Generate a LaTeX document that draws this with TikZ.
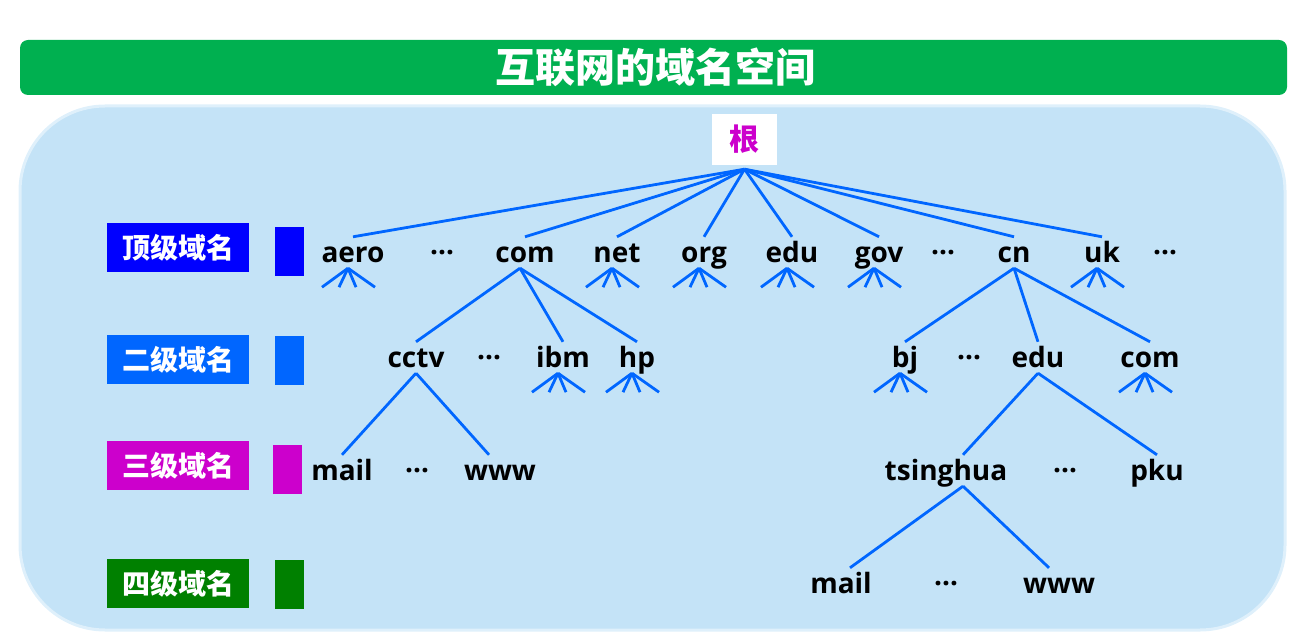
\documentclass[tikz,border=0pt]{standalone}
\usepackage{fontspec}
\setmainfont{Noto Sans CJK SC}
\newfontfamily\latinfont{Open Sans}
\usepackage{xcolor}
\definecolor{titlegreen}{HTML}{00B050}
\definecolor{panelblue}{HTML}{C4E3F7}
\definecolor{edgeblue}{HTML}{0066FF}
\definecolor{lvone}{HTML}{0000FF}
\definecolor{lvtwo}{HTML}{0066FF}
\definecolor{lvthree}{HTML}{CC00CC}
\definecolor{lvfour}{HTML}{008000}
\tikzset{
  dom/.style={inner sep=0pt,text height=25pt,text depth=6pt,anchor=base,
    font=\latinfont\bfseries\fontsize{28}{30}\selectfont},
  gap/.style={dom},
  level/.style={minimum width=142pt,minimum height=49pt,inner sep=0pt,text=white,
    font=\bfseries\fontsize{28}{30}\selectfont},
  levelmark/.style={minimum width=29pt,minimum height=49pt,inner sep=0pt},
  link/.style={draw=edgeblue,line width=2.8pt}
}
\newcommand\fanout[1]{\foreach \dx in {-26,-9,8,27} {\draw[link] ([xshift=-5pt]#1.south) -- ++(\dx,19);}}

\begin{document}
\begin{tikzpicture}[x=1pt,y=-1pt]
  \useasboundingbox (0,0) rectangle (1308,644);
  % title and panel
  \fill[titlegreen,rounded corners=8pt] (20,40) rectangle (1287,95);
  \node[text=white,font=\bfseries\fontsize{40}{42}\selectfont] (title) at (655,67) {互联网的域名空间};
  \fill[panelblue,rounded corners=85pt] (20,106) rectangle (1285,630);
  \draw[white!45!panelblue,line width=3pt,rounded corners=85pt] (20,106) rectangle (1285,630);

  % level labels
  \node[level,fill=lvone] (lvA) at (178,247.5) {顶级域名};
  \node[level,fill=lvtwo] (lvB) at (178,359.5) {二级域名};
  \node[level,fill=lvthree] (lvC) at (178,465.5) {三级域名};
  \node[level,fill=lvfour] (lvD) at (178,583.5) {四级域名};
  \node[levelmark,fill=lvone] (markA) at (289.5,251.5) {};
  \node[levelmark,fill=lvtwo] (markB) at (289.5,360.5) {};
  \node[levelmark,fill=lvthree] (markC) at (287.5,469.5) {};
  \node[levelmark,fill=lvfour] (markD) at (289.5,584) {};

  % root
  \node[fill=white,minimum width=65pt,minimum height=51pt,inner sep=0pt,text=lvthree,
    font=\bfseries\fontsize{30}{32}\selectfont] (root) at (744.5,139.5) {根};

  % top level
  \node[dom] (aero) at (353,262) {aero};
  \node[gap] (dotsA) at (442,262) {\raisebox{8pt}{…}};
  \node[dom] (com) at (525,262) {com};
  \node[dom] (net) at (617,262) {net};
  \node[dom] (org) at (704,262) {org};
  \node[dom] (edu) at (792,262) {edu};
  \node[dom] (gov) at (879,262) {gov};
  \node[gap] (dotsB) at (943,262) {\raisebox{8pt}{…}};
  \node[dom] (cn) at (1014,262) {cn};
  \node[dom] (uk) at (1102,262) {uk};
  \node[gap] (dotsC) at (1165,262) {\raisebox{8pt}{…}};
  \foreach \n in {aero,com,net,org,edu,gov,cn,uk}
    \draw[link] ([yshift=-4pt]root.south) -- (\n.north);
  \foreach \n in {aero,net,org,edu,gov,uk} {\fanout{\n}}

  % second level
  \node[dom] (cctv) at (416,367) {cctv};
  \node[gap] (dotsD) at (489,367) {\raisebox{8pt}{…}};
  \node[dom] (ibm) at (563,367) {ibm};
  \node[dom] (hp) at (637,367) {hp};
  \node[dom] (bj) at (905,367) {bj};
  \node[gap] (dotsE) at (969,367) {\raisebox{8pt}{…}};
  \node[dom] (cnedu) at (1038,367) {edu};
  \node[dom] (cncom) at (1150,367) {com};
  \foreach \n in {cctv,ibm,hp}
    \draw[link] ([xshift=-5pt]com.south) -- (\n.north);
  \foreach \n in {bj,cnedu,cncom}
    \draw[link] (cn.south) -- (\n.north);
  \foreach \n in {ibm,hp,bj,cncom} {\fanout{\n}}

  % third level
  \node[dom] (mail) at (342,480) {mail};
  \node[gap] (dotsF) at (417,480) {\raisebox{8pt}{…}};
  \node[dom] (www) at (500,480) {www};
  \node[dom] (tsinghua) at (946,480) {tsinghua};
  \node[gap] (dotsG) at (1065,480) {\raisebox{8pt}{…}};
  \node[dom] (pku) at (1157,480) {pku};
  \draw[link] (cctv.south) -- (mail.north);
  \draw[link] (cctv.south) -- ([xshift=-11pt]www.north);
  \draw[link] (cnedu.south) -- ([xshift=17pt]tsinghua.north);
  \draw[link] (cnedu.south) -- (pku.north);

  % fourth level
  \node[dom] (mailB) at (841,593) {mail};
  \node[gap] (dotsH) at (946,593) {\raisebox{8pt}{…}};
  \node[dom] (wwwB) at (1059,593) {www};
  \draw[link] ([xshift=17pt]tsinghua.south) -- ([xshift=9pt]mailB.north);
  \draw[link] ([xshift=17pt]tsinghua.south) -- ([xshift=-10pt]wwwB.north);
\end{tikzpicture}
\end{document}
